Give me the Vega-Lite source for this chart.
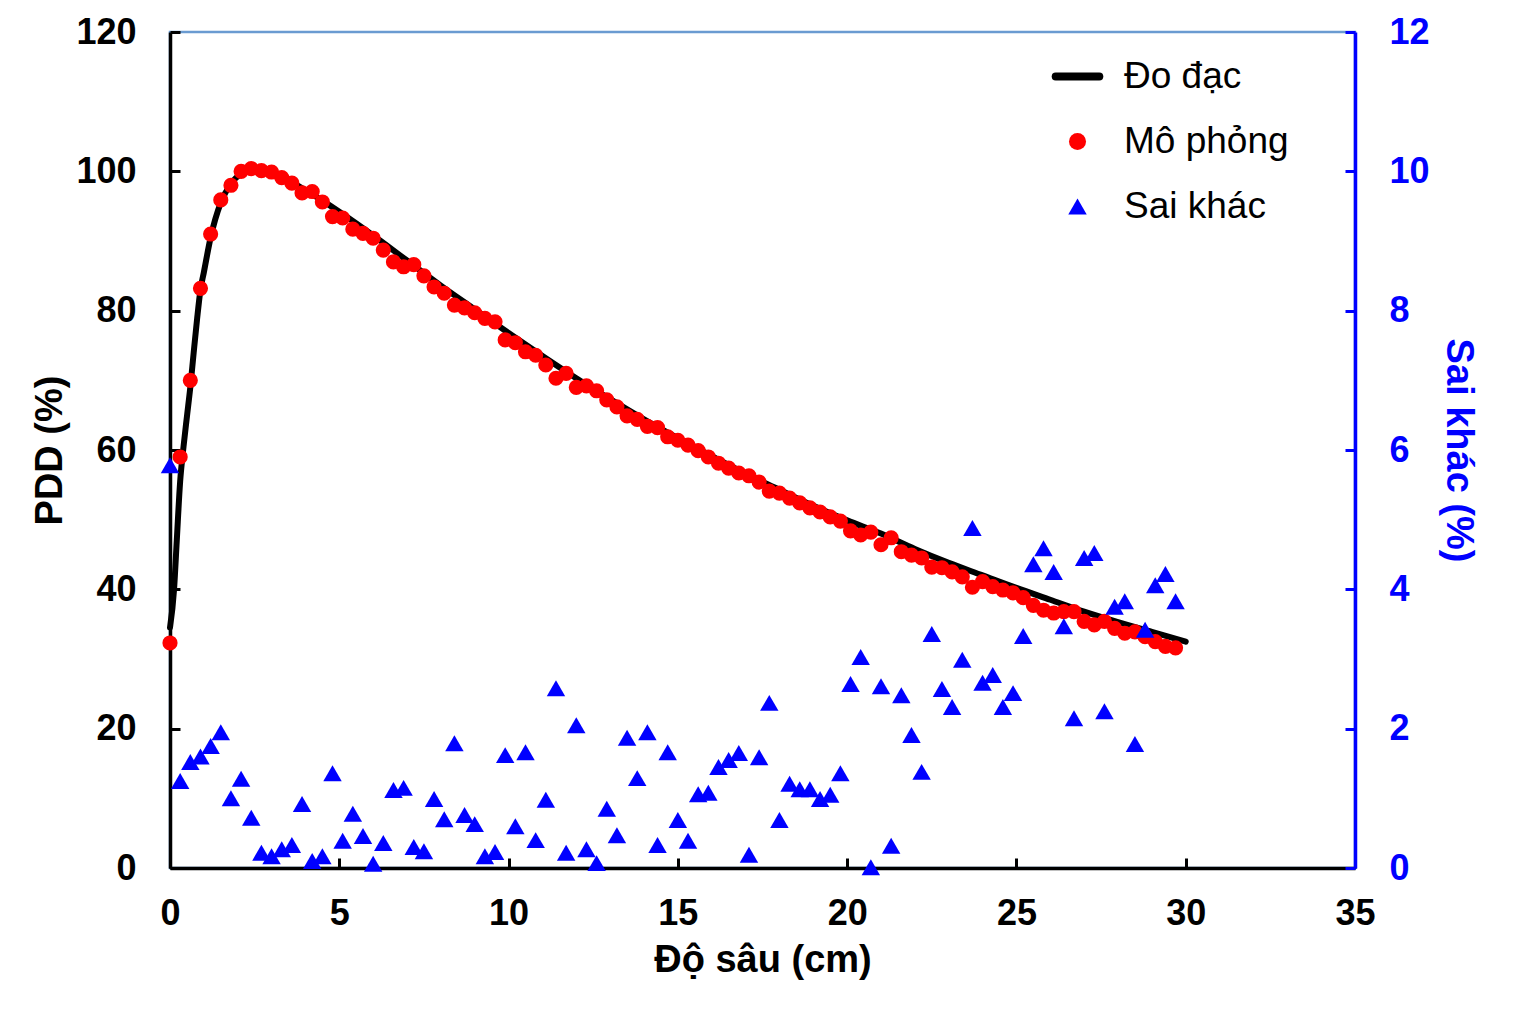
{
  "$schema": "https://vega.github.io/schema/vega-lite/v6.json",
  "width": 1185,
  "height": 836,
  "autosize": "none",
  "padding": {"left": 170, "top": 32, "right": 164, "bottom": 144},
  "background": "white",
  "datasets": {
    "measured": [
      {"x": 0, "pdd": 34.5}, {"x": 0.12, "pdd": 40}, {"x": 0.2, "pdd": 47}, {"x": 0.3, "pdd": 55.5},
      {"x": 0.4, "pdd": 60.5}, {"x": 0.5, "pdd": 64.8}, {"x": 0.6, "pdd": 69}, {"x": 0.7, "pdd": 74},
      {"x": 0.8, "pdd": 78.8}, {"x": 0.9, "pdd": 83}, {"x": 1.0, "pdd": 85.5}, {"x": 1.2, "pdd": 90.5},
      {"x": 1.5, "pdd": 95.5}, {"x": 1.8, "pdd": 98.2}, {"x": 2.1, "pdd": 99.6}, {"x": 2.5, "pdd": 100.1},
      {"x": 3.0, "pdd": 99.8}, {"x": 3.5, "pdd": 98.7}, {"x": 4.0, "pdd": 97.3}, {"x": 5, "pdd": 94.2},
      {"x": 6, "pdd": 90.8}, {"x": 7, "pdd": 87.2}, {"x": 8, "pdd": 83.6}, {"x": 9, "pdd": 80.2},
      {"x": 10, "pdd": 76.8}, {"x": 11, "pdd": 73.5}, {"x": 12, "pdd": 70.3}, {"x": 13, "pdd": 67.3},
      {"x": 14, "pdd": 64.4}, {"x": 15, "pdd": 61.7}, {"x": 16, "pdd": 59.1}, {"x": 17, "pdd": 56.6},
      {"x": 18, "pdd": 54.3}, {"x": 19, "pdd": 52.0}, {"x": 20, "pdd": 49.9}, {"x": 21, "pdd": 48.0},
      {"x": 22, "pdd": 45.8}, {"x": 23, "pdd": 43.8}, {"x": 24, "pdd": 42.0}, {"x": 25, "pdd": 40.2},
      {"x": 26, "pdd": 38.5}, {"x": 27, "pdd": 36.8}, {"x": 28, "pdd": 35.3}, {"x": 29, "pdd": 33.9},
      {"x": 30, "pdd": 32.5}
    ],
    "simulated": [
      {"x": 0, "pdd": 32.3}, {"x": 0.3, "pdd": 59.0}, {"x": 0.6, "pdd": 70.0}, {"x": 0.9, "pdd": 83.2},
      {"x": 1.2, "pdd": 91.0}, {"x": 1.5, "pdd": 95.9}, {"x": 1.8, "pdd": 98.0}, {"x": 2.1, "pdd": 100.0},
      {"x": 2.4, "pdd": 100.4}, {"x": 2.7, "pdd": 100.1}, {"x": 3.0, "pdd": 99.9}, {"x": 3.3, "pdd": 99.1},
      {"x": 3.6, "pdd": 98.3}, {"x": 3.9, "pdd": 96.9}, {"x": 4.2, "pdd": 97.1}, {"x": 4.5, "pdd": 95.6},
      {"x": 4.8, "pdd": 93.5}, {"x": 5.1, "pdd": 93.3}, {"x": 5.4, "pdd": 91.7}, {"x": 5.7, "pdd": 91.1},
      {"x": 6.0, "pdd": 90.4}, {"x": 6.3, "pdd": 88.7}, {"x": 6.6, "pdd": 87.0}, {"x": 6.9, "pdd": 86.3},
      {"x": 7.2, "pdd": 86.6}, {"x": 7.5, "pdd": 85.0}, {"x": 7.8, "pdd": 83.4}, {"x": 8.1, "pdd": 82.5},
      {"x": 8.4, "pdd": 80.8}, {"x": 8.7, "pdd": 80.4}, {"x": 9.0, "pdd": 79.7}, {"x": 9.3, "pdd": 78.9},
      {"x": 9.6, "pdd": 78.4}, {"x": 9.9, "pdd": 75.8}, {"x": 10.2, "pdd": 75.4}, {"x": 10.5, "pdd": 74.1},
      {"x": 10.8, "pdd": 73.6}, {"x": 11.1, "pdd": 72.2}, {"x": 11.4, "pdd": 70.3}, {"x": 11.7, "pdd": 71.0},
      {"x": 12.0, "pdd": 69.0}, {"x": 12.3, "pdd": 69.2}, {"x": 12.6, "pdd": 68.5}, {"x": 12.9, "pdd": 67.2},
      {"x": 13.2, "pdd": 66.2}, {"x": 13.5, "pdd": 64.9}, {"x": 13.8, "pdd": 64.4}, {"x": 14.1, "pdd": 63.4},
      {"x": 14.4, "pdd": 63.2}, {"x": 14.7, "pdd": 61.9}, {"x": 15.0, "pdd": 61.4}, {"x": 15.3, "pdd": 60.7},
      {"x": 15.6, "pdd": 59.9}, {"x": 15.9, "pdd": 59.0}, {"x": 16.2, "pdd": 58.1}, {"x": 16.5, "pdd": 57.4},
      {"x": 16.8, "pdd": 56.7}, {"x": 17.1, "pdd": 56.3}, {"x": 17.4, "pdd": 55.4}, {"x": 17.7, "pdd": 54.1},
      {"x": 18.0, "pdd": 53.8}, {"x": 18.3, "pdd": 53.1}, {"x": 18.6, "pdd": 52.4}, {"x": 18.9, "pdd": 51.7},
      {"x": 19.2, "pdd": 51.1}, {"x": 19.5, "pdd": 50.4}, {"x": 19.8, "pdd": 49.8}, {"x": 20.1, "pdd": 48.4},
      {"x": 20.4, "pdd": 47.8}, {"x": 20.7, "pdd": 48.2}, {"x": 21.0, "pdd": 46.4}, {"x": 21.3, "pdd": 47.4},
      {"x": 21.6, "pdd": 45.4}, {"x": 21.9, "pdd": 44.9}, {"x": 22.2, "pdd": 44.5}, {"x": 22.5, "pdd": 43.2},
      {"x": 22.8, "pdd": 43.1}, {"x": 23.1, "pdd": 42.5}, {"x": 23.4, "pdd": 41.8}, {"x": 23.7, "pdd": 40.3},
      {"x": 24.0, "pdd": 41.1}, {"x": 24.3, "pdd": 40.4}, {"x": 24.6, "pdd": 39.9}, {"x": 24.9, "pdd": 39.5},
      {"x": 25.2, "pdd": 38.8}, {"x": 25.5, "pdd": 37.7}, {"x": 25.8, "pdd": 37.0}, {"x": 26.1, "pdd": 36.6},
      {"x": 26.4, "pdd": 36.8}, {"x": 26.7, "pdd": 36.8}, {"x": 27.0, "pdd": 35.4}, {"x": 27.3, "pdd": 34.9},
      {"x": 27.6, "pdd": 35.4}, {"x": 27.9, "pdd": 34.4}, {"x": 28.2, "pdd": 33.7}, {"x": 28.5, "pdd": 33.9},
      {"x": 28.8, "pdd": 33.2}, {"x": 29.1, "pdd": 32.5}, {"x": 29.4, "pdd": 31.8}, {"x": 29.7, "pdd": 31.6}
    ],
    "difference": [
      {"x": 0, "diff": 5.78}, {"x": 0.3, "diff": 1.25}, {"x": 0.6, "diff": 1.52}, {"x": 0.9, "diff": 1.6},
      {"x": 1.2, "diff": 1.75}, {"x": 1.5, "diff": 1.95}, {"x": 1.8, "diff": 1.0}, {"x": 2.1, "diff": 1.28},
      {"x": 2.4, "diff": 0.72}, {"x": 2.7, "diff": 0.22}, {"x": 3.0, "diff": 0.17}, {"x": 3.3, "diff": 0.27},
      {"x": 3.6, "diff": 0.33}, {"x": 3.9, "diff": 0.92}, {"x": 4.2, "diff": 0.1}, {"x": 4.5, "diff": 0.17},
      {"x": 4.8, "diff": 1.36}, {"x": 5.1, "diff": 0.39}, {"x": 5.4, "diff": 0.78}, {"x": 5.7, "diff": 0.46},
      {"x": 6.0, "diff": 0.06}, {"x": 6.3, "diff": 0.36}, {"x": 6.6, "diff": 1.12}, {"x": 6.9, "diff": 1.15},
      {"x": 7.2, "diff": 0.3}, {"x": 7.5, "diff": 0.24}, {"x": 7.8, "diff": 0.99}, {"x": 8.1, "diff": 0.7},
      {"x": 8.4, "diff": 1.79}, {"x": 8.7, "diff": 0.76}, {"x": 9.0, "diff": 0.63}, {"x": 9.3, "diff": 0.17},
      {"x": 9.6, "diff": 0.23}, {"x": 9.9, "diff": 1.62}, {"x": 10.2, "diff": 0.6}, {"x": 10.5, "diff": 1.66},
      {"x": 10.8, "diff": 0.4}, {"x": 11.1, "diff": 0.98}, {"x": 11.4, "diff": 2.58}, {"x": 11.7, "diff": 0.22},
      {"x": 12.0, "diff": 2.05}, {"x": 12.3, "diff": 0.27}, {"x": 12.6, "diff": 0.07}, {"x": 12.9, "diff": 0.85},
      {"x": 13.2, "diff": 0.47}, {"x": 13.5, "diff": 1.87}, {"x": 13.8, "diff": 1.29}, {"x": 14.1, "diff": 1.95},
      {"x": 14.4, "diff": 0.33}, {"x": 14.7, "diff": 1.66}, {"x": 15.0, "diff": 0.69}, {"x": 15.3, "diff": 0.39},
      {"x": 15.6, "diff": 1.06}, {"x": 15.9, "diff": 1.08}, {"x": 16.2, "diff": 1.45}, {"x": 16.5, "diff": 1.55},
      {"x": 16.8, "diff": 1.65}, {"x": 17.1, "diff": 0.19}, {"x": 17.4, "diff": 1.59}, {"x": 17.7, "diff": 2.37},
      {"x": 18.0, "diff": 0.69}, {"x": 18.3, "diff": 1.21}, {"x": 18.6, "diff": 1.13}, {"x": 18.9, "diff": 1.13},
      {"x": 19.2, "diff": 0.99}, {"x": 19.5, "diff": 1.05}, {"x": 19.8, "diff": 1.36}, {"x": 20.1, "diff": 2.64},
      {"x": 20.4, "diff": 3.03}, {"x": 20.7, "diff": 0.01}, {"x": 21.0, "diff": 2.61}, {"x": 21.3, "diff": 0.32},
      {"x": 21.6, "diff": 2.48}, {"x": 21.9, "diff": 1.91}, {"x": 22.2, "diff": 1.38}, {"x": 22.5, "diff": 3.36},
      {"x": 22.8, "diff": 2.57}, {"x": 23.1, "diff": 2.31}, {"x": 23.4, "diff": 2.99}, {"x": 23.7, "diff": 4.88},
      {"x": 24.0, "diff": 2.66}, {"x": 24.3, "diff": 2.77}, {"x": 24.6, "diff": 2.31}, {"x": 24.9, "diff": 2.51},
      {"x": 25.2, "diff": 3.33}, {"x": 25.5, "diff": 4.36}, {"x": 25.8, "diff": 4.59}, {"x": 26.1, "diff": 4.25},
      {"x": 26.4, "diff": 3.47}, {"x": 26.7, "diff": 2.15}, {"x": 27.0, "diff": 4.45}, {"x": 27.3, "diff": 4.52},
      {"x": 27.6, "diff": 2.25}, {"x": 27.9, "diff": 3.75}, {"x": 28.2, "diff": 3.83}, {"x": 28.5, "diff": 1.78},
      {"x": 28.8, "diff": 3.42}, {"x": 29.1, "diff": 4.06}, {"x": 29.4, "diff": 4.22}, {"x": 29.7, "diff": 3.83}
    ]
  },
  "layer": [
    {
      "layer": [
        {
          "data": {"name": "measured"},
          "mark": {"type": "line", "strokeWidth": 6, "strokeCap": "round", "interpolate": "monotone"},
          "encoding": {
            "x": {
              "field": "x", "type": "quantitative",
              "scale": {"domain": [0, 35], "nice": false},
              "axis": {"values": [0, 5, 10, 15, 20, 25, 30, 35], "title": "Độ sâu (cm)", "labelFlush": false, "labelPadding": 38, "titlePadding": 10}
            },
            "y": {
              "field": "pdd", "type": "quantitative",
              "scale": {"domain": [0, 120], "nice": false},
              "axis": {"values": [0, 20, 40, 60, 80, 100, 120], "title": "PDD (%)", "labelPadding": 44, "titlePadding": 6}
            },
            "color": {
              "datum": "Đo đạc",
              "scale": {"domain": ["Đo đạc", "Mô phỏng", "Sai khác"], "range": ["#000000", "#ff0000", "#0000ff"]},
              "legend": {
                "title": null,
                "orient": "none",
                "legendX": 889,
                "legendY": 26,
                "symbolSize": 2209,
                "labelOffset": 28,
                "rowPadding": 27,
                "labelLimit": 0,
                "labelFontSize": 37,
                "labelFont": "Liberation Sans",
                "labelColor": "#000000",
                "encode": {
                  "symbols": {
                    "update": {
                      "fill": {"signal": "datum.value === 'Mô phỏng' ? '#ff0000' : datum.value === 'Sai khác' ? '#0000ff' : 'transparent'"},
                      "stroke": {"value": "#000000"},
                      "strokeWidth": {"signal": "datum.value === 'Đo đạc' ? 8 : 0"},
                      "strokeCap": {"value": "round"},
                      "size": {"signal": "datum.value === 'Đo đạc' ? 1900 : datum.value === 'Sai khác' ? 340 : 290"},
                      "opacity": {"value": 1}
                    }
                  }
                }
              }
            }
          }
        },
        {
          "data": {"name": "simulated"},
          "mark": {"type": "point", "filled": true, "opacity": 1, "size": 230},
          "encoding": {
            "x": {"field": "x", "type": "quantitative"},
            "y": {"field": "pdd", "type": "quantitative"},
            "color": {"datum": "Mô phỏng"},
            "shape": {
              "datum": "Mô phỏng",
              "scale": {"domain": ["Đo đạc", "Mô phỏng", "Sai khác"], "range": ["stroke", "circle", "triangle-up"]},
              "legend": {"title": null}
            }
          }
        }
      ]
    },
    {
      "data": {"name": "difference"},
      "mark": {"type": "point", "filled": true, "opacity": 1, "size": 340},
      "encoding": {
        "x": {"field": "x", "type": "quantitative"},
        "y": {
          "field": "diff", "type": "quantitative",
          "scale": {"domain": [0, 12], "nice": false},
          "axis": {
            "orient": "right",
            "values": [0, 2, 4, 6, 8, 10, 12],
            "title": "Sai khác (%)",
            "labelPadding": 44,
            "titlePadding": 9,
            "domainColor": "#0000ff",
            "tickColor": "#0000ff",
            "labelColor": "#0000ff",
            "titleColor": "#0000ff"
          }
        },
        "color": {"datum": "Sai khác"},
        "shape": {"datum": "Sai khác"}
      }
    }
  ],
  "resolve": {"scale": {"y": "independent"}},
  "config": {
    "view": {"stroke": "#6a9bd1", "strokeWidth": 2.5},
    "axis": {
      "grid": false,
      "domainColor": "#000000",
      "domainWidth": 3.5,
      "tickColor": "#000000",
      "tickWidth": 3,
      "tickSize": -10,
      "labelFont": "Liberation Sans",
      "labelFontSize": 36,
      "labelFontWeight": "bold",
      "labelColor": "#000000",
      "titleFont": "Liberation Sans",
      "titleFontSize": 38,
      "titleFontWeight": "bold",
      "titleColor": "#000000"
    }
  }
}
